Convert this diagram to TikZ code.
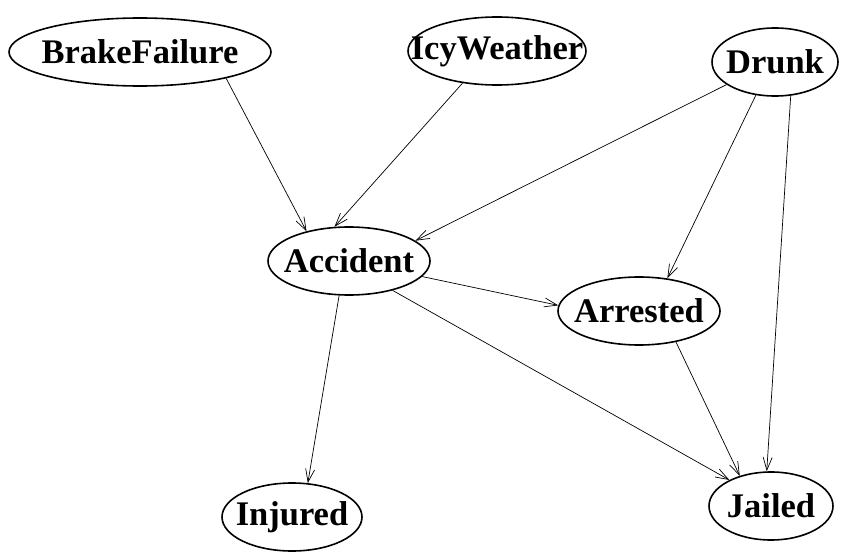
\documentclass[tikz,border=0pt]{standalone}
\usepackage{fontspec}
\setmainfont{Liberation Serif}
\usetikzlibrary{shapes.geometric,arrows.meta}
\tikzset{
  var/.style={ellipse, draw, line width=1.6pt, inner sep=0pt, font=\fontsize{34.5}{40}\selectfont\bfseries},
  edge/.style={line width=0.7pt, -{Straight Barb[length=13pt,width=9pt,line width=0.7pt]}},
}
\newcommand{\lbl}[1]{\makebox[0pt]{#1}}
\begin{document}
\begin{tikzpicture}[x=1pt,y=-1pt]
\useasboundingbox (0,0) rectangle (862,559);
\node[var, minimum width=262pt, minimum height=68pt] (brake) at (140,52) {\lbl{BrakeFailure}};
\node[var, minimum width=178pt, minimum height=68pt] (icy) at (497,51) {\lbl{IcyWeather}};
\node[var, minimum width=126pt, minimum height=68pt] (drunk) at (775,62) {\lbl{Drunk}};
\node[var, minimum width=162pt, minimum height=68pt] (acc) at (349,261) {\lbl{Accident}};
\node[var, minimum width=162pt, minimum height=68pt] (arr) at (639,311) {\lbl{Arrested}};
\node[var, minimum width=140pt, minimum height=68pt] (inj) at (292,517) {\lbl{Injured}};
\node[var, minimum width=124pt, minimum height=68pt] (jail) at (771,506) {\lbl{Jailed}};
\draw[edge] (brake.-17.6) -- (acc.145);
\draw[edge] (icy.223) -- (acc.113);
\draw[edge] (drunk.205) -- (acc.17);
\draw[edge] (drunk.240.6) -- (arr.49);
\draw[edge] (drunk.295) -- (jail.97);
\draw[edge] (acc.-12) -- (arr.176.5);
\draw[edge] (acc.254) -- (inj.65.5);
\draw[edge] (acc.326.6) -- (jail.148.6);
\draw[edge] (arr.320.5) -- (jail.136);
\end{tikzpicture}
\end{document}
